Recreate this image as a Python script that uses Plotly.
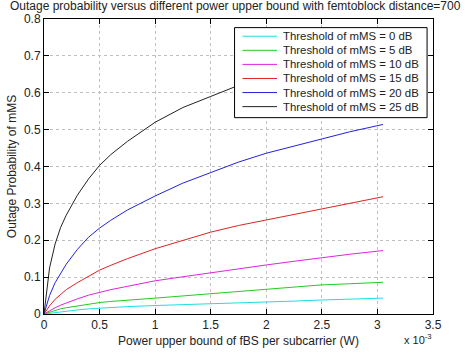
import plotly.graph_objects as go

# x in units of 1e-3 W
power = [0, 0.05, 0.1, 0.15, 0.2, 0.3, 0.4, 0.5, 0.6, 0.75, 1.0, 1.25, 1.5, 1.75, 2.0, 2.25, 2.5, 2.75, 3.05]

th0 = [0, 0.002, 0.004, 0.006, 0.008, 0.011, 0.014, 0.016, 0.018, 0.020, 0.023, 0.025, 0.027, 0.030, 0.032, 0.035, 0.038, 0.040, 0.043]
th5 = [0, 0.005, 0.010, 0.014, 0.017, 0.022, 0.027, 0.031, 0.034, 0.038, 0.043, 0.049, 0.055, 0.060, 0.067, 0.073, 0.079, 0.082, 0.086]
th10 = [0, 0.009, 0.017, 0.024, 0.030, 0.041, 0.051, 0.059, 0.066, 0.075, 0.090, 0.101, 0.112, 0.124, 0.133, 0.143, 0.153, 0.162, 0.172]
th15 = [0, 0.022, 0.040, 0.054, 0.066, 0.085, 0.103, 0.119, 0.132, 0.150, 0.177, 0.200, 0.222, 0.240, 0.255, 0.270, 0.285, 0.300, 0.318]
th20 = [0, 0.050, 0.085, 0.112, 0.135, 0.175, 0.208, 0.233, 0.254, 0.282, 0.320, 0.355, 0.384, 0.412, 0.436, 0.456, 0.475, 0.494, 0.514]
th25 = [0, 0.125, 0.190, 0.235, 0.268, 0.322, 0.366, 0.403, 0.432, 0.468, 0.520, 0.560, 0.590, 0.620, 0.645, 0.668, 0.690, 0.710, 0.730]

names = ["Threshold of mMS = 0 dB", "Threshold of mMS = 5 dB", "Threshold of mMS = 10 dB",
         "Threshold of mMS = 15 dB", "Threshold of mMS = 20 dB", "Threshold of mMS = 25 dB"]
series = [th0, th5, th10, th15, th20, th25]
colors = ["#22dede", "#22cc22", "#e022e0", "#e02222", "#2222dd", "#222222"]

xticks = [0, 0.5, 1, 1.5, 2, 2.5, 3, 3.5]
yticks = [0, 0.1, 0.2, 0.3, 0.4, 0.5, 0.6, 0.7, 0.8]

font = "Liberation Sans, Arial, sans-serif"

# plot-area geometry in pixels (for the hand-drawn legend box)
L, R, T, B = 39, 433, 15, 323


def px(x):
    return (x - L) / (R - L)


def py(y):
    return (B - y) / (B - T)


fig = go.Figure()
for n, s, c in zip(names, series, colors):
    fig.add_trace(go.Scatter(x=power, y=s, mode="lines", name=n,
                             line=dict(color=c, width=1)))

axis_common = dict(showline=True, linecolor="black", linewidth=1, mirror="allticks",
                   ticks="inside", ticklen=5, tickcolor="black",
                   showgrid=True, gridcolor="#c0c0c0", griddash="dot", gridwidth=1,
                   zeroline=False, tickfont=dict(size=12, color="#222", family=font))

fig.update_layout(
    width=475, height=358,
    margin=dict(l=L, r=475 - R, t=T, b=358 - B),
    plot_bgcolor="white", paper_bgcolor="white",
    font=dict(family=font, size=12, color="#222"),
    title=dict(text="Outage probability versus different power upper bound with femtoblock distance=700",
               x=10 / 475, xanchor="left", y=1 - 6 / 358, yanchor="middle",
               font=dict(size=12, color="#222", family=font)),
    xaxis=dict(range=[0, 3.5], tickvals=xticks, ticktext=[f"{v:g}" for v in xticks],
               title=dict(text="Power upper bound of fBS per subcarrier (W)", standoff=5,
                          font=dict(size=12)), **axis_common),
    yaxis=dict(range=[0, 0.8], tickvals=yticks, ticktext=[f"{v:g}" for v in yticks],
               title=dict(text="Outage Probability of mMS", standoff=4, font=dict(size=12)),
               **axis_common),
    showlegend=False,
)

# legend box (MATLAB style, compact rows)
fig.add_shape(type="rect", xref="paper", yref="paper", layer="above",
              x0=px(232), x1=px(427), y0=py(118), y1=py(24),
              fillcolor="white", line=dict(color="black", width=1))
row_y = [33.0, 47.7, 62.4, 77.1, 91.8, 106.5]
for n, c, yy in zip(names, colors, row_y):
    fig.add_shape(type="line", xref="paper", yref="paper", layer="above",
                  x0=px(240), x1=px(275), y0=py(yy), y1=py(yy),
                  line=dict(color=c, width=1))
    fig.add_annotation(text=n, xref="paper", yref="paper", x=px(279), y=py(yy),
                       xanchor="left", yanchor="middle", showarrow=False,
                       font=dict(size=11.4, color="#222", family=font))

fig.add_annotation(text="x 10<sup>-3</sup>", xref="paper", yref="paper",
                   x=px(418), y=py(349), showarrow=False,
                   font=dict(size=11, color="#222"), xanchor="center", yanchor="middle")

fig.write_html("out.html")
